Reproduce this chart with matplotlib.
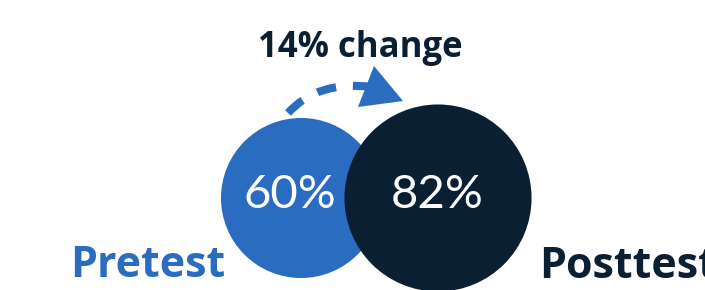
import numpy as np
import matplotlib
matplotlib.use("Agg")
import matplotlib.pyplot as plt
from matplotlib.patches import Circle, Polygon
from matplotlib.path import Path
from matplotlib.patches import PathPatch

# ---- data ----
labels = ["Pretest", "Posttest"]
values = [60, 82]
value_labels = ["60%", "82%"]
change_label = "14% change"

# ---- style / layout ----
colors = ["#2A6CC0", "#0B1F33"]
FONT = "Lato"
BOLD_FONT = "Open Sans"
W, H = 705, 290
centers_x = [301, 438]
center_y = 198
k = 10.33  # radius scale: area proportional to value

fig = plt.figure(figsize=(W / 100, H / 100), dpi=100)
ax = fig.add_axes([0, 0, 1, 1])
ax.set_xlim(0, W)
ax.set_ylim(H, 0)
ax.axis("off")

for i, (v, c) in enumerate(zip(values, colors)):
    r = k * np.sqrt(v)
    ax.add_patch(Circle((centers_x[i], center_y), r, color=c, zorder=2 + i, lw=0))

# value labels
val_text_x = [290, 437]
for i, t in enumerate(value_labels):
    ax.text(val_text_x[i], 208, t, color="white", fontsize=34, family=FONT,
            ha="center", va="baseline", zorder=10)

# category labels
ax.text(70, 277, labels[0], color=colors[0], fontsize=31, family=BOLD_FONT,
        fontweight="bold", ha="left", va="baseline")
ax.text(539, 278, labels[1], color=colors[1], fontsize=31, family=BOLD_FONT,
        fontweight="bold", ha="left", va="baseline")

# change label
ax.text(360, 57, change_label, color=colors[1], fontsize=25, family=BOLD_FONT,
        fontweight="bold", ha="center", va="baseline")

# dashed curved arrow
p0, p1, p2 = np.array([288, 113]), np.array([318, 80]), np.array([372, 87])
verts = [tuple(p0), tuple(p1), tuple(p2)]
path = Path(verts, [Path.MOVETO, Path.CURVE3, Path.CURVE3])
ax.add_patch(PathPatch(path, fill=False, edgecolor=colors[0], lw=5.8,
                       linestyle=(0, (2.4, 2.1)), capstyle="butt", zorder=5))
ax.add_patch(Polygon([(374, 66), (403, 101), (358, 107)], closed=True,
                     color=colors[0], lw=0, zorder=6))

fig.savefig("out.png", dpi=100)
